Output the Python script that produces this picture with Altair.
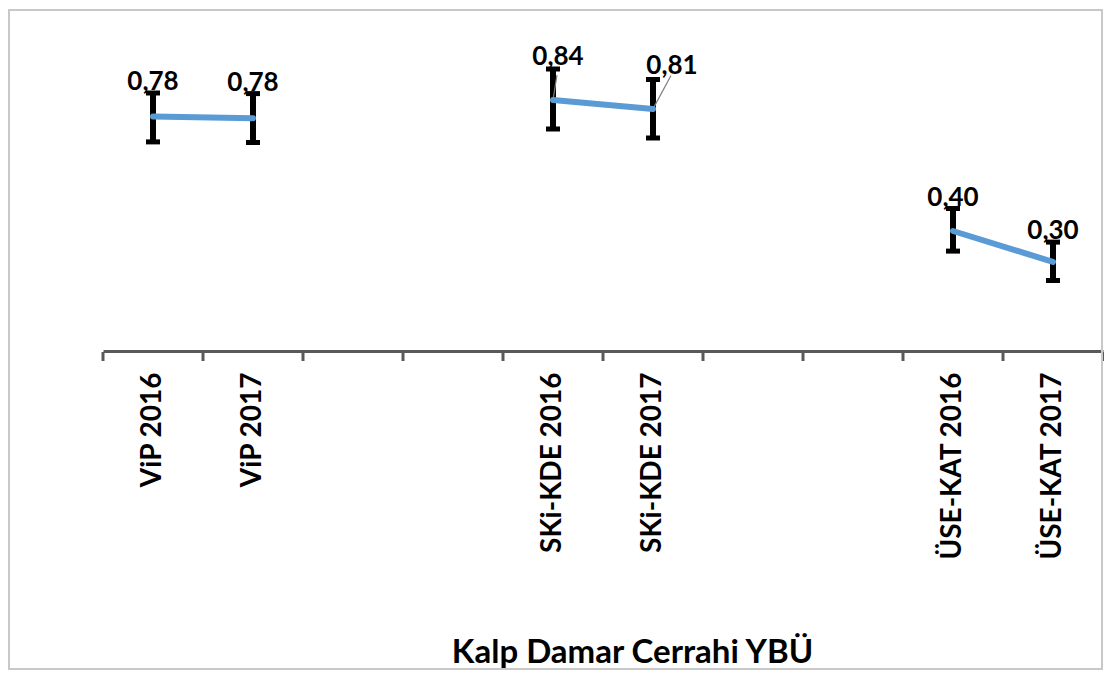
import altair as alt
import pandas as pd

# ---- data ----
categories = ["ViP 2016", "ViP 2017", "_g1", "_g2",
              "SKi-KDE 2016", "SKi-KDE 2017", "_g3", "_g4",
              "ÜSE-KAT 2016", "ÜSE-KAT 2017"]
point_cats = ["ViP 2016", "ViP 2017", "SKi-KDE 2016", "SKi-KDE 2017",
              "ÜSE-KAT 2016", "ÜSE-KAT 2017"]
groups = ["ViP", "ViP", "SKi-KDE", "SKi-KDE", "ÜSE-KAT", "ÜSE-KAT"]
values = [0.782, 0.776, 0.837, 0.807, 0.400, 0.297]
lower = [0.697, 0.695, 0.740, 0.710, 0.333, 0.235]
upper = [0.860, 0.858, 0.940, 0.905, 0.475, 0.363]
x_title = "Kalp Damar Cerrahi YBÜ"

df = pd.DataFrame({
    "cat": point_cats,
    "grp": groups,
    "val": values,
    "lo": lower,
    "hi": upper,
})
df["lbl"] = [f"{v:.2f}".replace(".", ",") for v in values]
cats_df = pd.DataFrame({"cat": categories})

FONT = "Lato"
YS = alt.Scale(domain=[0, 1.1], nice=False, zero=True)
XS = alt.Scale(domain=categories, paddingInner=0, paddingOuter=0)

XAXIS = alt.Axis(
    title=x_title,
    labelAngle=-90, labelAlign="right", labelBaseline="middle",
    labelFont=FONT, labelFontSize=28, labelFontWeight="bold",
    labelColor="#000000", labelPadding=21, labelLimit=0,
    labelExpr="indexof(datum.value, '_g') == 0 ? '' : datum.value",
    domainColor="#595959", domainWidth=3,
    ticks=False,
    titleFont=FONT, titleFontSize=33, titleFontWeight="bold",
    titleColor="#000000", titleX=529, titleY=311,
    titleAlign="center", titleBaseline="alphabetic",
    grid=False)


def xenc(**kw):
    return alt.X("cat:N", sort=categories, scale=XS, axis=XAXIS, **kw)


x = xenc()
base = alt.Chart(df)

# category-boundary tick marks on the x axis
ticks_start = alt.Chart(cats_df).mark_rule(color="#595959", strokeWidth=3).encode(
    x=xenc(bandPosition=0), y=alt.value(331), y2=alt.value(340))
ticks_end = alt.Chart(cats_df).transform_filter(
    "datum.cat == 'ÜSE-KAT 2017'"
).mark_rule(color="#595959", strokeWidth=3).encode(
    x=xenc(bandPosition=1), y=alt.value(331), y2=alt.value(340))

border = alt.Chart(cats_df).transform_filter("datum.cat == 'ViP 2016'").mark_rect(
    fillOpacity=0, stroke="#c8c8c8", strokeWidth=2
).encode(x=alt.value(-94), x2=alt.value(999), y=alt.value(-11), y2=alt.value(648))

bars = base.mark_rule(color="#000000", strokeWidth=6).encode(
    x=x, y=alt.Y("lo:Q", scale=YS, axis=None), y2="hi:Q")
caps_lo = base.mark_tick(color="#000000", opacity=1, thickness=5, size=14).encode(
    x=x, y=alt.Y("lo:Q", scale=YS, axis=None))
caps_hi = base.mark_tick(color="#000000", opacity=1, thickness=5, size=14).encode(
    x=x, y=alt.Y("hi:Q", scale=YS, axis=None))

line = base.mark_line(color="#5B9BD5", strokeWidth=6, strokeCap="round").encode(
    x=x, y=alt.Y("val:Q", scale=YS, axis=None), detail="grp:N")

lead16 = base.transform_filter("datum.cat == 'SKi-KDE 2016'").mark_rule(
    color="#7f7f7f", strokeWidth=1.2, x2Offset=4, y2Offset=6).encode(
    x=x, x2="cat:N", y=alt.Y("val:Q", scale=YS, axis=None), y2="hi:Q")
lead17 = base.transform_filter("datum.cat == 'SKi-KDE 2017'").mark_rule(
    color="#7f7f7f", strokeWidth=1.2, x2Offset=18, y2Offset=-4).encode(
    x=x, x2="cat:N", y=alt.Y("val:Q", scale=YS, axis=None), y2="hi:Q")

txt_common = dict(font=FONT, fontSize=26, fontWeight="bold", color="#000000",
                  baseline="alphabetic", align="center")
labels_plain = base.transform_filter(
    "indexof(datum.cat, 'SKi') != 0"
).mark_text(dy=-3, **txt_common).encode(
    x=x, y=alt.Y("hi:Q", scale=YS, axis=None), text="lbl:N")
labels_s16 = base.transform_filter(
    "datum.cat == 'SKi-KDE 2016'"
).mark_text(dy=-4, dx=5, **txt_common).encode(
    x=x, y=alt.Y("hi:Q", scale=YS, axis=None), text="lbl:N")
labels_s17 = base.transform_filter(
    "datum.cat == 'SKi-KDE 2017'"
).mark_text(dy=-6, dx=19, **txt_common).encode(
    x=x, y=alt.Y("hi:Q", scale=YS, axis=None), text="lbl:N")

chart = alt.layer(
    bars, caps_lo, caps_hi, lead16, lead17, line,
    labels_plain, labels_s16, labels_s17, ticks_start, ticks_end, border
).properties(
    width=1000, height=330,
    autosize=alt.AutoSizeParams(type="none"),
    padding={"left": 95, "top": 13, "right": 1, "bottom": 320},
    background="#ffffff",
).configure_view(stroke=None)

chart.save("out.html", embed_options={"renderer": "svg", "actions": False})
